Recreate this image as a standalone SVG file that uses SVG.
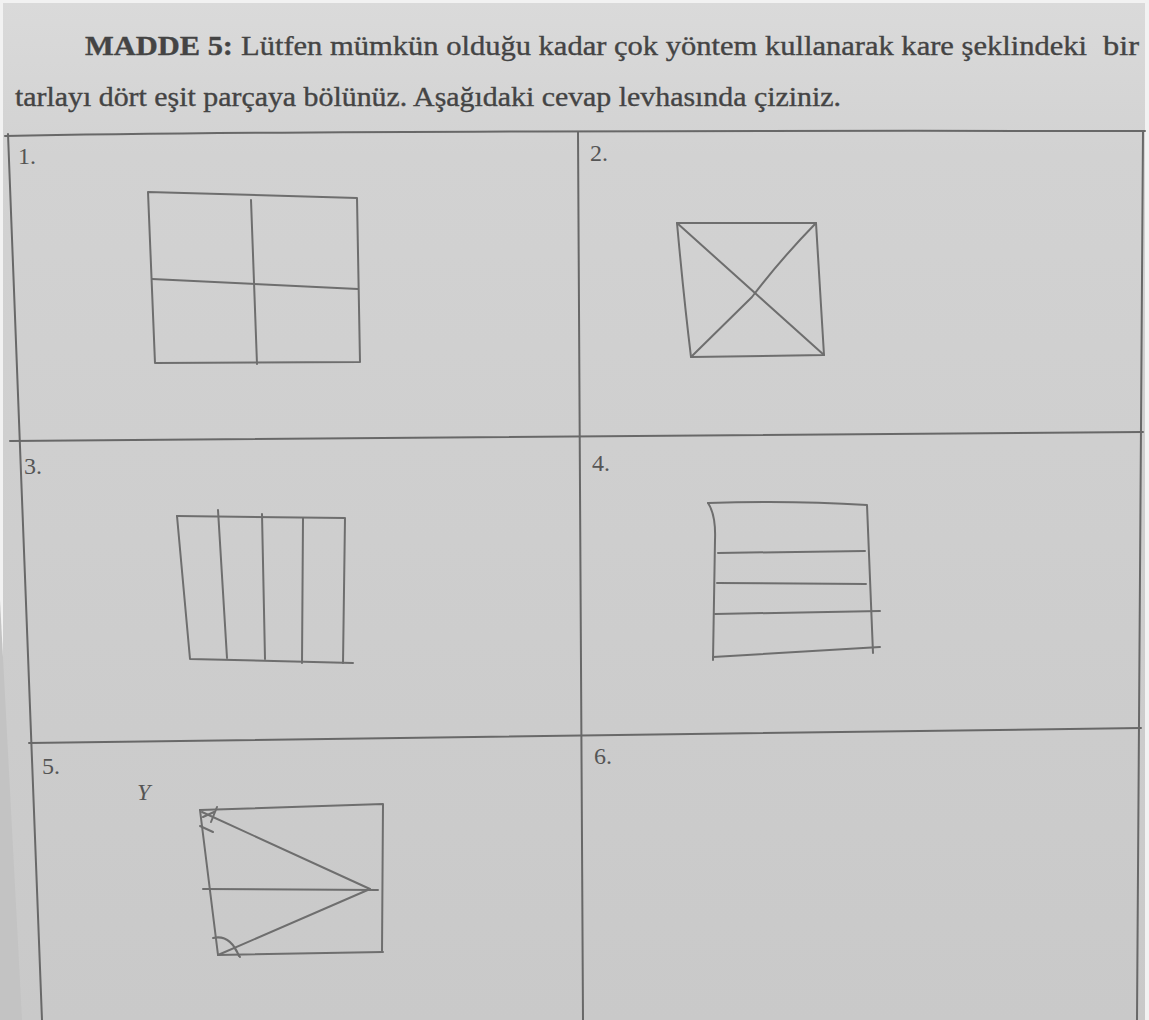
<svg xmlns="http://www.w3.org/2000/svg" width="1149" height="1020" viewBox="0 0 1149 1020">
  <style>
    .hdr { font-family: "Liberation Serif", "Times New Roman", serif; font-size: 27px; fill: #444444; stroke: #444444; stroke-width: 0.35; }
    .num { font-family: "Liberation Serif", "Times New Roman", serif; font-size: 24px; fill: #555555; }
    .grid { stroke: #686868; stroke-width: 2; fill: none; stroke-linecap: round; }
    .pen { stroke: #6e6e6e; stroke-width: 2; fill: none; stroke-linecap: round; stroke-linejoin: round; }
  </style>
  <defs>
    <linearGradient id="paper" x1="0" y1="0" x2="0" y2="1">
      <stop offset="0" stop-color="#dadada"/>
      <stop offset="0.15" stop-color="#d2d2d2"/>
      <stop offset="1" stop-color="#c9c9c9"/>
    </linearGradient>
  </defs>
  <rect x="0" y="0" width="1149" height="1020" fill="#f2f2f2"/>
  <polygon points="3,3 1145,3 1145,1020 3,1020" fill="url(#paper)"/>
  <polygon points="0,600 22,1020 0,1020" fill="#c3c3c3"/>

  <g id="header">
    <text class="hdr" y="55"><tspan x="85" font-weight="bold" textLength="148" lengthAdjust="spacingAndGlyphs">MADDE 5:</tspan><tspan x="241" textLength="846" lengthAdjust="spacingAndGlyphs">Lütfen mümkün olduğu kadar çok yöntem kullanarak kare şeklindeki</tspan><tspan x="1103" textLength="36" lengthAdjust="spacingAndGlyphs">bir</tspan></text>
    <text class="hdr" x="15" y="106" textLength="826" lengthAdjust="spacingAndGlyphs">tarlayı dört eşit parçaya bölünüz. Aşağıdaki cevap levhasında çiziniz.</text>
  </g>

  <g id="table">
    <path class="grid" d="M5,136 Q300,130 1145,131"/>
    <path class="grid" d="M8,134 L42,1020"/>
    <path class="grid" d="M578,132 L583,1020"/>
    <path class="grid" d="M1143,131 L1137,1020"/>
    <path class="grid" d="M10,441 L1143,432"/>
    <path class="grid" d="M29,743 L1141,728"/>
  </g>

  <g id="cell1">
    <text class="num" x="18" y="164">1.</text>
    <path class="pen" d="M148,192 L357,198 L360,362 L155,363 Z"/>
    <path class="pen" d="M251,200 L257,364"/>
    <path class="pen" d="M152,279 L358,289"/>
  </g>

  <g id="cell2">
    <text class="num" x="590" y="161">2.</text>
    <path class="pen" d="M677,223 L816,223 L824,355 L691,357 Q684,300 677,223 Z"/>
    <path class="pen" d="M677,223 L824,355"/>
    <path class="pen" d="M816,223 Q780,260 752,297 L691,357"/>
  </g>

  <g id="cell3">
    <text class="num" x="24" y="474">3.</text>
    <path class="pen" d="M177,516 L345,518 L343,663"/>
    <path class="pen" d="M177,516 L190,659 L353,663"/>
    <path class="pen" d="M218,510 L227,658"/>
    <path class="pen" d="M262,514 L265,659"/>
    <path class="pen" d="M303,518 L302,663"/>
  </g>

  <g id="cell4">
    <text class="num" x="592" y="471">4.</text>
    <path class="pen" d="M708,503 Q790,500 867,505 L873,653"/>
    <path class="pen" d="M708,503 Q716,515 715,540 L713,660"/>
    <path class="pen" d="M713,657 L880,647"/>
    <path class="pen" d="M718,553 L865,551"/>
    <path class="pen" d="M717,583 L866,584"/>
    <path class="pen" d="M715,614 L880,611"/>
  </g>

  <g id="cell5">
    <text class="num" x="42" y="774">5.</text>
    <text class="num" x="137" y="800" font-size="13" font-style="italic">Y</text>
    <path class="pen" d="M200,810 L383,804 L382,952"/>
    <path class="pen" d="M200,810 L218,955 L383,952"/>
    <path class="pen" d="M203,889 L378,890"/>
    <path class="pen" d="M202,812 L370,889 L218,955"/>
    <path class="pen" d="M217,807 L211,822 M200,826 L213,832 M203,817 L214,812"/>
    <path class="pen" d="M213,938 Q230,934 239,956 M234,947 L240,957"/>
  </g>

  <g id="cell6">
    <text class="num" x="594" y="764">6.</text>
  </g>
</svg>
